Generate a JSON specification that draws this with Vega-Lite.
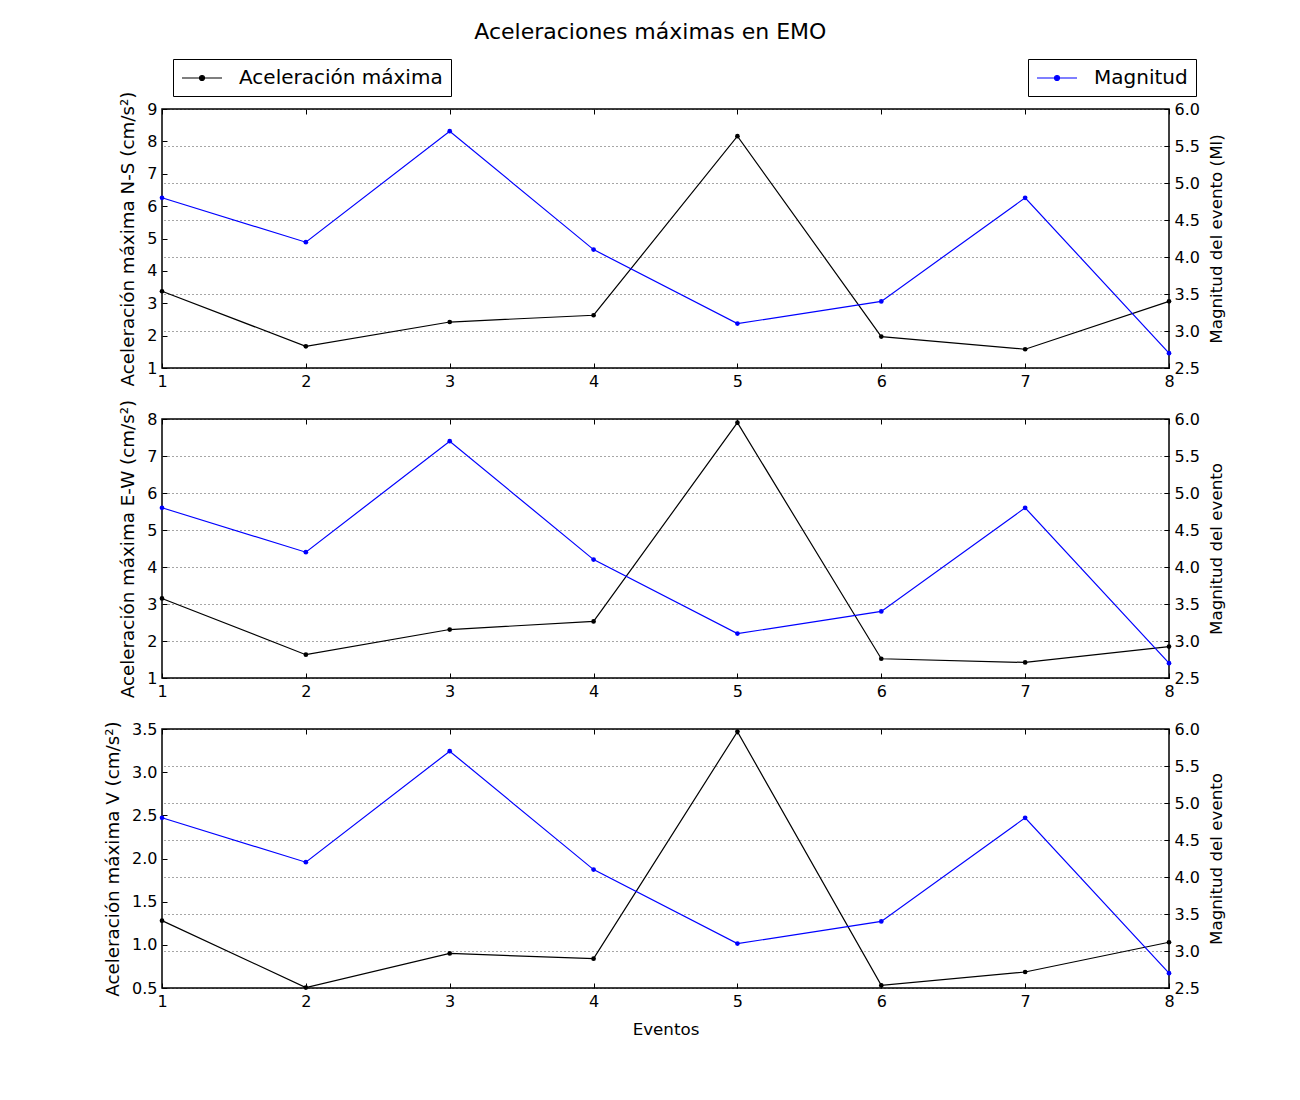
{
  "$schema": "https://vega.github.io/schema/vega-lite/v6.json",
  "background": "white",
  "padding": {"left": 102, "top": 20, "right": 10, "bottom": 10},
  "title": {"text": "Aceleraciones máximas en EMO", "fontSize": 22, "font": "DejaVu Sans", "fontWeight": "normal", "color": "black", "anchor": "middle", "offset": 14, "dx": -14},
  "config": {
    "font": "DejaVu Sans",
    "view": {"stroke": "black", "strokeWidth": 1.5},
    "axis": {"domain": false, "grid": false, "labelFont": "DejaVu Sans", "labelFontSize": 16, "labelColor": "black", "titleFont": "DejaVu Sans", "titleFontSize": 16.7, "titleFontWeight": "normal", "titleColor": "black", "tickColor": "black", "tickSize": -5, "tickWidth": 1, "labelPadding": 10, "titlePadding": 6, "labelFlush": false},
    "axisLeft": {"titleFontSize": 18.3, "titlePadding": 9},
    "axisRight": {"titleAngle": 270, "titleBaseline": "top", "titlePadding": 9},
    "legend": {"orient": "none", "strokeColor": "black", "padding": 8, "labelFontSize": 20, "labelFont": "DejaVu Sans", "labelColor": "black", "labelLimit": 500, "symbolSize": 400, "symbolStrokeWidth": 1.2, "labelOffset": 36, "cornerRadius": 0, "fillColor": "white"}
  },
  "data": {"values": [
    {"evento": 1, "ns": 3.37, "ew": 3.15, "v": 1.28, "mag": 4.8},
    {"evento": 2, "ns": 1.67, "ew": 1.63, "v": 0.505, "mag": 4.2},
    {"evento": 3, "ns": 2.42, "ew": 2.31, "v": 0.90, "mag": 5.7},
    {"evento": 4, "ns": 2.63, "ew": 2.53, "v": 0.84, "mag": 4.1},
    {"evento": 5, "ns": 8.16, "ew": 7.90, "v": 3.47, "mag": 3.1},
    {"evento": 6, "ns": 1.97, "ew": 1.52, "v": 0.53, "mag": 3.4},
    {"evento": 7, "ns": 1.58, "ew": 1.42, "v": 0.685, "mag": 4.8},
    {"evento": 8, "ns": 3.06, "ew": 1.85, "v": 1.03, "mag": 2.7}
  ]},
  "spacing": 51,
  "bounds": "flush",
  "vconcat": [
    {
      "width": 1007, "height": 259,
      "layer": [
        {
          "mark": {"type": "line", "strokeWidth": 1.2, "point": {"filled": true, "size": 22}},
          "encoding": {
            "x": {"field": "evento", "type": "quantitative", "scale": {"domain": [1, 8], "nice": false, "zero": false}, "axis": {"orient": "bottom", "values": [1, 2, 3, 4, 5, 6, 7, 8], "title": null}},
            "y": {"field": "ns", "type": "quantitative", "scale": {"domain": [1, 9], "nice": false, "zero": false}, "axis": {"orient": "left", "values": [1, 2, 3, 4, 5, 6, 7, 8, 9], "title": "Aceleración máxima N-S (cm/s²)"}},
            "color": {"datum": "Aceleración máxima", "scale": {"range": ["black"]}, "legend": {"title": null, "legendX": 11, "legendY": -50, "symbolType": "M-1,0L3,0M1.25,0A0.25,0.25,0,1,1,0.75,0A0.25,0.25,0,1,1,1.25,0Z", "symbolFillColor": "black", "symbolStrokeColor": "black"}}
          }
        },
        {
          "mark": {"type": "line", "strokeWidth": 1.2, "point": {"filled": true, "size": 22}},
          "encoding": {
            "x": {"field": "evento", "type": "quantitative", "axis": {"orient": "top", "values": [1, 2, 3, 4, 5, 6, 7, 8], "labels": false, "title": null}},
            "y": {"field": "mag", "type": "quantitative", "scale": {"domain": [2.5, 6.0], "nice": false, "zero": false}, "axis": {"orient": "right", "values": [2.5, 3.0, 3.5, 4.0, 4.5, 5.0, 5.5, 6.0], "format": ".1f", "title": "Magnitud del evento (Ml)", "grid": true, "gridDash": [1, 3], "gridColor": "black", "gridOpacity": 0.7}},
            "color": {"datum": "Magnitud", "scale": {"range": ["#0000ff"]}, "legend": {"title": null, "legendX": 866, "legendY": -50, "symbolType": "M-1,0L3,0M1.25,0A0.25,0.25,0,1,1,0.75,0A0.25,0.25,0,1,1,1.25,0Z", "symbolFillColor": "#0000ff", "symbolStrokeColor": "#0000ff"}}
          }
        }
      ],
      "resolve": {"scale": {"y": "independent", "color": "independent"}, "axis": {"x": "independent"}}
    },
    {
      "width": 1007, "height": 259,
      "layer": [
        {
          "mark": {"type": "line", "color": "black", "strokeWidth": 1.2, "point": {"filled": true, "size": 22, "color": "black"}},
          "encoding": {
            "x": {"field": "evento", "type": "quantitative", "scale": {"domain": [1, 8], "nice": false, "zero": false}, "axis": {"orient": "bottom", "values": [1, 2, 3, 4, 5, 6, 7, 8], "title": null}},
            "y": {"field": "ew", "type": "quantitative", "scale": {"domain": [1, 8], "nice": false, "zero": false}, "axis": {"orient": "left", "values": [1, 2, 3, 4, 5, 6, 7, 8], "title": "Aceleración máxima E-W (cm/s²)"}}
          }
        },
        {
          "mark": {"type": "line", "color": "#0000ff", "strokeWidth": 1.2, "point": {"filled": true, "size": 22, "color": "#0000ff"}},
          "encoding": {
            "x": {"field": "evento", "type": "quantitative", "axis": {"orient": "top", "values": [1, 2, 3, 4, 5, 6, 7, 8], "labels": false, "title": null}},
            "y": {"field": "mag", "type": "quantitative", "scale": {"domain": [2.5, 6.0], "nice": false, "zero": false}, "axis": {"orient": "right", "values": [2.5, 3.0, 3.5, 4.0, 4.5, 5.0, 5.5, 6.0], "format": ".1f", "title": "Magnitud del evento", "grid": true, "gridDash": [1, 3], "gridColor": "black", "gridOpacity": 0.7}}
          }
        }
      ],
      "resolve": {"scale": {"y": "independent"}, "axis": {"x": "independent"}}
    },
    {
      "width": 1007, "height": 259,
      "layer": [
        {
          "mark": {"type": "line", "color": "black", "strokeWidth": 1.2, "point": {"filled": true, "size": 22, "color": "black"}},
          "encoding": {
            "x": {"field": "evento", "type": "quantitative", "scale": {"domain": [1, 8], "nice": false, "zero": false}, "axis": {"orient": "bottom", "values": [1, 2, 3, 4, 5, 6, 7, 8], "title": "Eventos", "titlePadding": 12}},
            "y": {"field": "v", "type": "quantitative", "scale": {"domain": [0.5, 3.5], "nice": false, "zero": false}, "axis": {"orient": "left", "values": [0.5, 1.0, 1.5, 2.0, 2.5, 3.0, 3.5], "format": ".1f", "title": "Aceleración máxima V (cm/s²)"}}
          }
        },
        {
          "mark": {"type": "line", "color": "#0000ff", "strokeWidth": 1.2, "point": {"filled": true, "size": 22, "color": "#0000ff"}},
          "encoding": {
            "x": {"field": "evento", "type": "quantitative", "axis": {"orient": "top", "values": [1, 2, 3, 4, 5, 6, 7, 8], "labels": false, "title": null}},
            "y": {"field": "mag", "type": "quantitative", "scale": {"domain": [2.5, 6.0], "nice": false, "zero": false}, "axis": {"orient": "right", "values": [2.5, 3.0, 3.5, 4.0, 4.5, 5.0, 5.5, 6.0], "format": ".1f", "title": "Magnitud del evento", "grid": true, "gridDash": [1, 3], "gridColor": "black", "gridOpacity": 0.7}}
          }
        }
      ],
      "resolve": {"scale": {"y": "independent"}, "axis": {"x": "independent"}}
    }
  ]
}
